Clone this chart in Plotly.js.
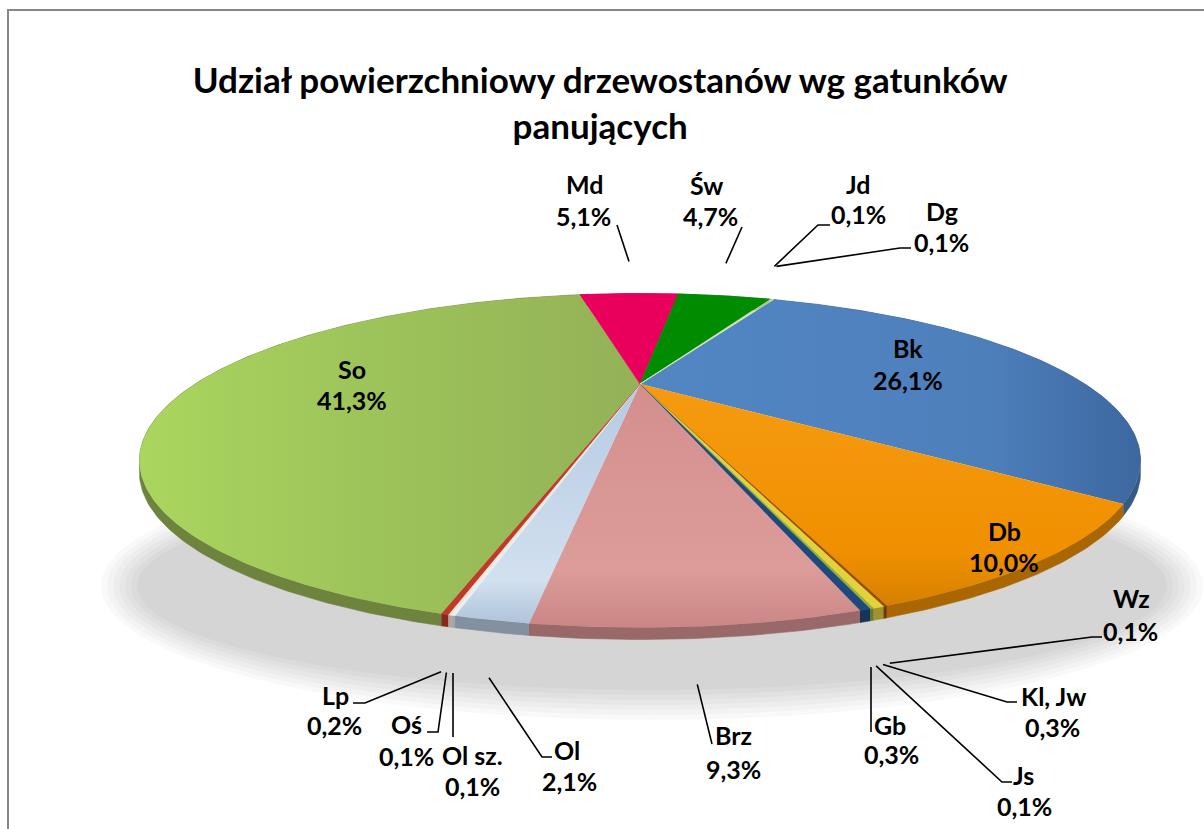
<!DOCTYPE html>
<html>
<head>
<meta charset="utf-8">
<script src="https://cdn.plot.ly/plotly-3.0.1.min.js"></script>
<style>html,body{margin:0;padding:0;background:#fff}#chart{width:1204px;height:829px}</style>
</head>
<body>
<div id="chart"></div>
<script>
// ---- data (clockwise order of the slices) ----
const categories = ['Bk','Db','Wz','Kl, Jw','Js','Gb','Brz','Ol','Ol sz.','Oś','Lp','So','Md','Św','Jd','Dg'];
const shares     = [26.1, 10.0, 0.1, 0.3, 0.1, 0.3, 9.3, 2.1, 0.1, 0.1, 0.2, 41.3, 5.1, 4.7, 0.1, 0.1];
const titleText  = 'Udział powierzchniowy drzewostanów wg gatunków<br>panujących';

// ---- styles ----
const topColors = ['#4f81bd','#f39200','#9a4a0a','#e3d23a','#8fb040','#1f497d','#d99694','#b9cde5',
                   '#e6eef8','#fbe9d8','#c0392b','#9bbb59','#e8005c','#008c00','#c4d79b','#d7e4bd'];
// optional shading of the top faces (gradient type, colours, start/stop in pixels)
const topShading = {
  'So': {type:'horizontal', colorscale:[[0,'#aad65e'],[0.45,'#9dc45a'],[1,'#94b157']], start:140, stop:640},
  'Bk': {type:'horizontal', colorscale:[[0,'#5287c4'],[0.7,'#4d7fbb'],[1,'#3d679f']], start:640, stop:1140},
  'Db': {type:'vertical',   colorscale:[[0,'#f59a10'],[0.7,'#f09000'],[1,'#d07c00']], start:390, stop:620},
  'Brz':{type:'vertical',   colorscale:[[0,'#d48f8d'],[0.75,'#dc9c9a'],[1,'#c98583']], start:385, stop:630},
  'Ol': {type:'vertical',   colorscale:[[0,'#b6cae2'],[0.8,'#d2e0ef'],[1,'#aabfd8']], start:385, stop:630}
};
const FONT = 'Lato, "Open Sans", sans-serif';

// ---- 3D pie projection (layout parameters) ----
const G = {cx:640, cy:384, s:445, b:132, a:0.458, A:0.15, B:-0.075, rot:24.8, depth:12};

function psiOf(tDeg){
  const t = tDeg*Math.PI/180;
  return t + G.A*Math.sin(t) + G.B*Math.sin(2*t);
}
function rim(tDeg, dy){
  const p = psiOf(tDeg), u = Math.sin(p), v = Math.cos(p), w = 1+G.a*v;
  return [G.cx + G.s*u/w, G.cy - G.b*v/w + (dy||0)];
}
function shade(hex, f){
  const n = parseInt(hex.slice(1),16);
  const r = Math.round(((n>>16)&255)*f), g = Math.round(((n>>8)&255)*f), b = Math.round((n&255)*f);
  return 'rgb('+r+','+g+','+b+')';
}

const total = shares.reduce((p,c)=>p+c,0);
let cum = 0;
const slices = shares.map((v,i)=>{
  const t0 = G.rot + cum/total*360; cum += v;
  const t1 = G.rot + cum/total*360;
  return {i, t0, t1};
});

const sideTraces = [], topTraces = [];
slices.forEach(sl=>{
  const n = Math.max(2, Math.ceil((sl.t1-sl.t0)/0.7));
  const rx=[], ry=[], bx=[], by=[];
  for (let j=0;j<=n;j++){
    const t = sl.t0 + (sl.t1-sl.t0)*j/n;
    const p = rim(t), q = rim(t, G.depth);
    rx.push(p[0]); ry.push(p[1]); bx.push(q[0]); by.push(q[1]);
  }
  const name = categories[sl.i];
  const col = topColors[sl.i];
  const pct = shares[sl.i].toFixed(1).replace('.',',')+'%';
  sideTraces.push({type:'scatter', mode:'lines', x:rx.concat(bx.slice().reverse()), y:ry.concat(by.slice().reverse()),
    fill:'toself', fillcolor:shade(col,0.7), line:{width:0.6, color:shade(col,0.7)},
    hoverinfo:'text', text:name+' '+pct, showlegend:false});
  const tr = {type:'scatter', mode:'lines', x:[G.cx].concat(rx,[G.cx]), y:[G.cy].concat(ry,[G.cy]),
    fill:'toself', fillcolor:col, line:{width:0.6, color:col},
    hoverinfo:'text', text:name+' '+pct, showlegend:false};
  if (topShading[name]) { tr.fillgradient = topShading[name]; tr.line = {width:0}; }
  topTraces.push(tr);
});

// ---- label placement (text positions and leader elbows, pixels) ----
const labelPos = {
  'Md':     {n:[584,184], p:[583,216], path:[[617,225]]},
  'Św':     {n:[706,185], p:[710,216], path:[[742,227]]},
  'Jd':     {n:[858,184], p:[858,214], path:[[818,225],[830,225]]},
  'Dg':     {n:[942,211], p:[941,242], path:[[900,248],[911,248]]},
  'Bk':     {n:[908,348], p:[908,380], inside:true},
  'Db':     {n:[1004,531], p:[1004,562], inside:true},
  'So':     {n:[352,369], p:[352,400], inside:true},
  'Wz':     {n:[1131,598], p:[1130,631], path:[[1092,637],[1102,637]]},
  'Kl, Jw': {n:[1053,696], p:[1052,727], path:[[1007,702],[1017,702]]},
  'Js':     {n:[1023,775], p:[1024,806], path:[[1002,782],[1012,782]]},
  'Gb':     {n:[890,725],  p:[891,754], path:[[871,732]], vertical:true},
  'Brz':    {n:[733,735],  p:[733,769], path:[[712,744]]},
  'Ol':     {n:[567,750],  p:[569,781], path:[[542,757],[552,757]]},
  'Ol sz.': {n:[472,755],  p:[472,786], path:[[453,737]], vertical:true},
  'Oś':     {n:[406,724],  p:[406,756], path:[[438,732],[427,732]]},
  'Lp':     {n:[335,695],  p:[334,725], path:[[365,703],[353,703]]}
};

const annotations = [], shapes = [];
// soft shadow under the pie
for (let j=0;j<7;j++){
  const rxs = 515+j*6, rys = 104+j*5;
  shapes.push({type:'circle', layer:'below', xref:'x', yref:'y', x0:652-rxs, x1:652+rxs, y0:586-rys, y1:586+rys,
    fillcolor:'rgba(0,0,0,0.022)', line:{width:0}});
}
// chart frame
shapes.push({type:'rect', layer:'below', xref:'x', yref:'y', x0:8, y0:10, x1:1260, y1:900, line:{color:'#878787', width:2}, fillcolor:'rgba(0,0,0,0)'});

slices.forEach(sl=>{
  const name = categories[sl.i];
  const L = labelPos[name];
  const pct = shares[sl.i].toFixed(1).replace('.',',')+'%';
  const f = {family:FONT, size:25, color:'#000', weight:'bold'};
  annotations.push({xref:'x', yref:'y', x:L.n[0], y:L.n[1], text:name, showarrow:false, font:f, xanchor:'center', yanchor:'middle'});
  annotations.push({xref:'x', yref:'y', x:L.p[0], y:L.p[1], text:pct, showarrow:false, font:f, xanchor:'center', yanchor:'middle'});
  if (!L.inside){
    const tm = (sl.t0+sl.t1)/2, p = psiOf(tm), e = rim(tm);
    const d = 45 - 13*Math.cos(p);
    let dx = 0.25*Math.sin(p), dy = -Math.cos(p);
    const nn = Math.hypot(dx,dy); dx/=nn; dy/=nn;
    let ex = e[0]+dx*d, ey = e[1]+dy*d;
    if (L.vertical) ex = L.path[0][0];
    let path = 'M'+ex.toFixed(1)+','+ey.toFixed(1);
    L.path.forEach(pt=>{ path += ' L'+pt[0]+','+pt[1]; });
    shapes.push({type:'path', xref:'x', yref:'y', path:path, line:{color:'#000', width:1.6}});
  }
});

const layout = {
  width:1204, height:829, margin:{l:0,r:0,t:0,b:0},
  paper_bgcolor:'#ffffff', plot_bgcolor:'#ffffff',
  xaxis:{range:[0,1204], visible:false, fixedrange:true},
  yaxis:{range:[829,0], visible:false, fixedrange:true},
  showlegend:false,
  title:{text:titleText, font:{family:FONT, size:35, color:'#000', weight:'bold'},
         x:0.4985, xanchor:'center', y:1-93/829, yanchor:'middle'},
  shapes:shapes, annotations:annotations
};
Plotly.newPlot('chart', sideTraces.concat(topTraces), layout, {displayModeBar:false, staticPlot:true});
</script>
</body>
</html>
